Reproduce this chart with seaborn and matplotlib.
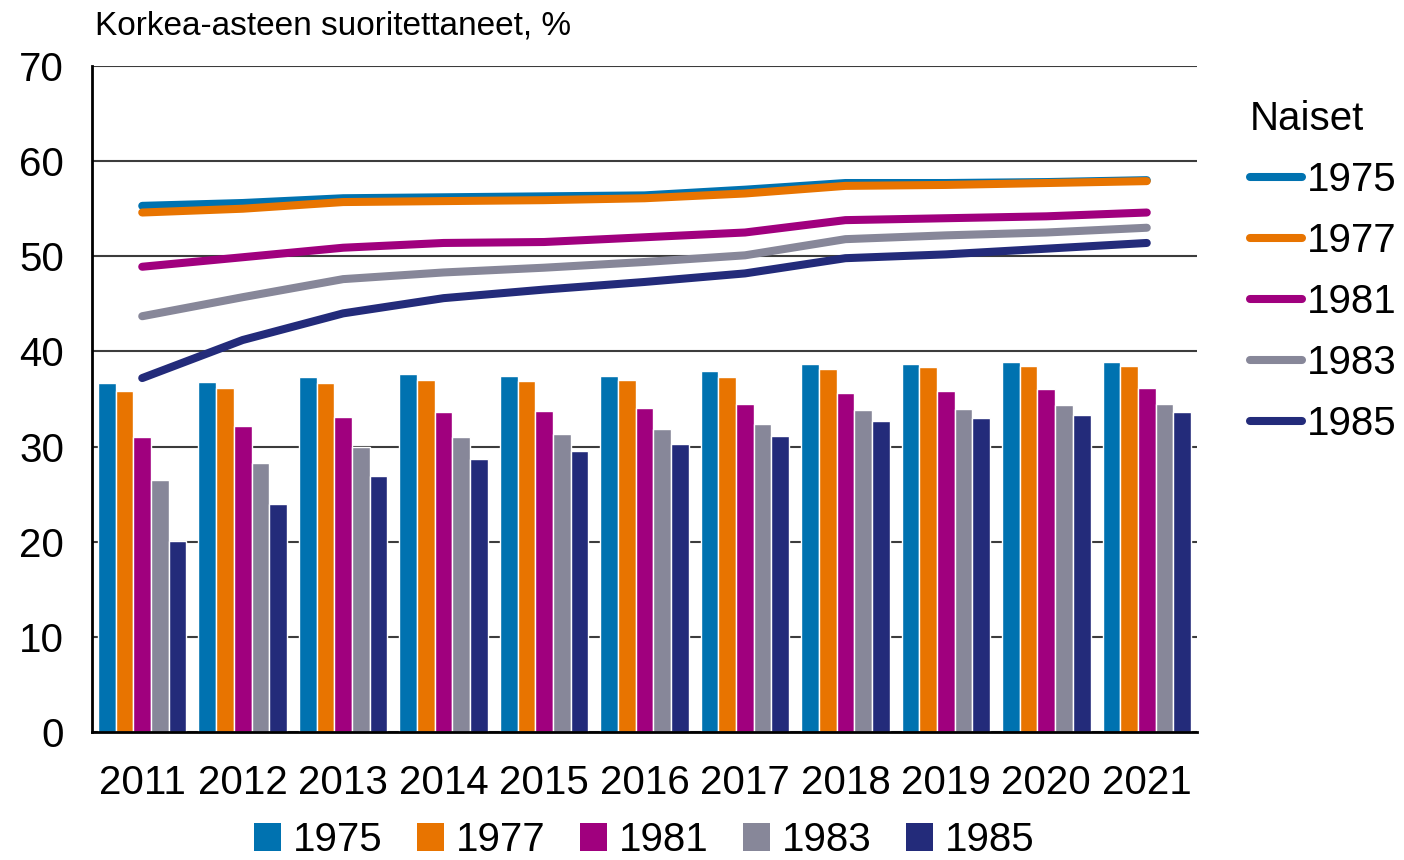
import numpy as np
import pandas as pd
import matplotlib
matplotlib.use("Agg")
import matplotlib.pyplot as plt
from matplotlib.lines import Line2D
from matplotlib.patches import Patch
import seaborn as sns

years = ["2011", "2012", "2013", "2014", "2015", "2016", "2017", "2018", "2019", "2020", "2021"]
cohorts = ["1975", "1977", "1981", "1983", "1985"]

# Bars: all (korkea-asteen suorittaneet, %)
bar_1975 = [36.7, 36.8, 37.3, 37.6, 37.4, 37.4, 37.9, 38.7, 38.7, 38.9, 38.9]
bar_1977 = [35.8, 36.2, 36.7, 37.0, 36.9, 37.0, 37.3, 38.2, 38.4, 38.5, 38.5]
bar_1981 = [31.0, 32.2, 33.1, 33.6, 33.7, 34.1, 34.5, 35.6, 35.8, 36.1, 36.2]
bar_1983 = [26.5, 28.3, 30.0, 31.0, 31.3, 31.8, 32.4, 33.8, 34.0, 34.4, 34.5]
bar_1985 = [20.1, 24.0, 26.9, 28.7, 29.5, 30.3, 31.1, 32.7, 33.0, 33.3, 33.6]

# Lines: Naiset
naiset_1975 = [55.3, 55.6, 56.1, 56.2, 56.3, 56.4, 57.0, 57.7, 57.7, 57.8, 58.0]
naiset_1977 = [54.6, 55.0, 55.7, 55.8, 55.9, 56.1, 56.6, 57.4, 57.5, 57.7, 57.9]
naiset_1981 = [48.9, 49.9, 50.9, 51.4, 51.5, 52.0, 52.5, 53.8, 54.0, 54.2, 54.6]
naiset_1983 = [43.7, 45.7, 47.6, 48.3, 48.8, 49.4, 50.1, 51.8, 52.2, 52.5, 53.0]
naiset_1985 = [37.2, 41.2, 44.0, 45.6, 46.5, 47.3, 48.2, 49.8, 50.2, 50.8, 51.4]

colors = ["#0072B0", "#E87400", "#A0007E", "#878799", "#232B7A"]
palette = dict(zip(cohorts, colors))

bars = [bar_1975, bar_1977, bar_1981, bar_1983, bar_1985]
lines = [naiset_1975, naiset_1977, naiset_1981, naiset_1983, naiset_1985]

bar_df = pd.DataFrame({
    "year": np.repeat([years], len(cohorts), axis=0).ravel(),
    "cohort": np.repeat(cohorts, len(years)),
    "value": np.concatenate(bars),
})
line_df = pd.DataFrame({
    "pos": np.tile(np.arange(len(years)), len(cohorts)),
    "cohort": np.repeat(cohorts, len(years)),
    "value": np.concatenate(lines),
})

sns.set_theme(style="white")
plt.rcParams["font.family"] = ["Liberation Sans", "DejaVu Sans"]
plt.rcParams["text.color"] = "black"
plt.rcParams["legend.labelcolor"] = "black"

FS = 29

fig = plt.figure(figsize=(14.04, 8.6), dpi=100)
ax = fig.add_axes([92 / 1404, 1 - 732 / 860, (1197 - 92) / 1404, (732 - 66) / 860])

sns.barplot(data=bar_df, x="year", y="value", hue="cohort", hue_order=cohorts,
            palette=palette, width=0.88, gap=0, edgecolor="white", linewidth=1.0,
            saturation=1, legend=False, ax=ax, zorder=2)
sns.lineplot(data=line_df, x="pos", y="value", hue="cohort", hue_order=cohorts,
             palette=palette, linewidth=5.8, legend=False, ax=ax, zorder=3,
             solid_capstyle="round")

ax.set_xlim(-0.5, len(years) - 0.5)
ax.set_ylim(0, 70)
ax.set_yticks(range(0, 71, 10))
ax.set_xticks(range(len(years)))
ax.set_xticklabels(years)
ax.set_xlabel("")
ax.set_ylabel("")
ax.yaxis.grid(True, color="#3c3c3c", linewidth=1.5, zorder=0)
ax.xaxis.grid(False)
ax.set_axisbelow(True)
for s in ["top", "right"]:
    ax.spines[s].set_visible(False)
for s in ["left", "bottom"]:
    ax.spines[s].set_color("black")
    ax.spines[s].set_linewidth(2)
    ax.spines[s].set_zorder(4)
ax.tick_params(axis="both", length=0, labelsize=FS, colors="black")
ax.tick_params(axis="y", pad=20)
ax.tick_params(axis="x", pad=23)

fig.text(95 / 1404, 1 - 26 / 860, "Korkea-asteen suoritettaneet, %", fontsize=24,
         va="center", ha="left", color="black")

line_handles = [Line2D([0], [0], color=c, linewidth=5.8, solid_capstyle="round") for c in colors]
leg1 = fig.legend(line_handles, cohorts, title="Naiset", loc="upper left",
                  bbox_to_anchor=(1250 / 1404, 1 - 100 / 860), frameon=False,
                  borderpad=0, borderaxespad=0,
                  fontsize=FS, title_fontsize=FS, handlelength=1.3, handletextpad=0.12,
                  labelspacing=0.57, alignment="left")
leg1.get_title().set_color("black")

bar_handles = [Patch(facecolor=c, edgecolor="none") for c in colors]
leg2 = fig.legend(bar_handles, cohorts, loc="center",
                  bbox_to_anchor=(644 / 1404, 1 - 840 / 860), frameon=False,
                  borderpad=0, borderaxespad=0,
                  ncol=5, fontsize=FS, handlelength=0.67, handleheight=0.72,
                  handletextpad=0.3, columnspacing=0.85)

fig.savefig("out.png", dpi=100, facecolor="white")
